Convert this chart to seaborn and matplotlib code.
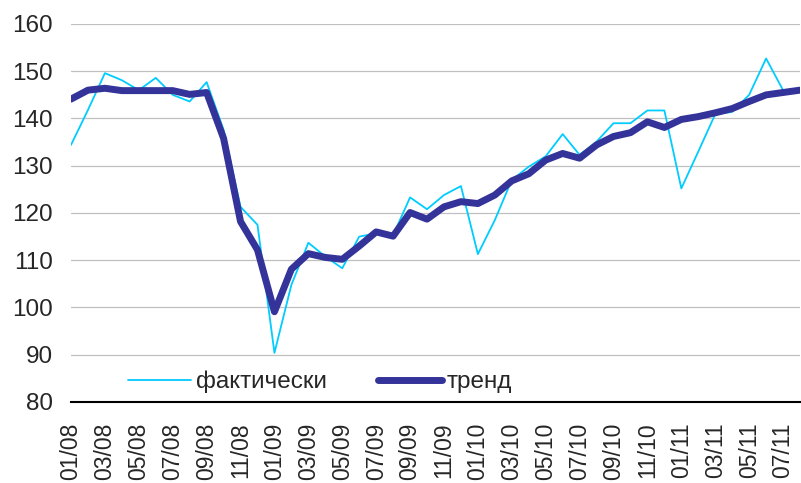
import numpy as np
import pandas as pd
import matplotlib
matplotlib.use("Agg")
import matplotlib.pyplot as plt
import seaborn as sns

# monthly series, 01/08 .. 08/11
months = [p.strftime("%m/%y") for p in pd.period_range("2008-01", "2011-08", freq="M")]
actual = [134.4, 141.8, 149.6, 148.1, 146.0, 148.6, 145.0, 143.6, 147.7, 137.6,
          121.3, 117.5, 90.4, 104.8, 113.7, 110.8, 108.3, 115.0, 115.7, 115.3,
          123.3, 120.8, 123.8, 125.7, 111.3, 118.5, 127.0, 129.8, 132.0, 136.7,
          132.3, 135.1, 139.0, 139.0, 141.7, 141.7, 125.2, 133.0, 140.9, 141.4,
          145.0, 152.7, 146.0, 146.0]
trend = [144.1, 146.0, 146.4, 145.9, 145.9, 145.9, 145.9, 145.1, 145.5, 135.8,
         118.2, 112.2, 99.1, 108.1, 111.4, 110.6, 110.2, 113.0, 116.0, 115.1,
         120.1, 118.7, 121.3, 122.4, 122.0, 123.8, 126.8, 128.3, 131.2, 132.6,
         131.6, 134.4, 136.2, 137.0, 139.3, 138.1, 139.8, 140.4, 141.2, 142.1,
         143.6, 145.0, 145.5, 146.0]

df = pd.DataFrame({"idx": np.arange(len(months)), "month": months,
                   "фактически": actual, "тренд": trend})

sns.set_style("white")
plt.rcParams["font.family"] = ["Liberation Sans", "DejaVu Sans"]

fig = plt.figure(figsize=(8.01, 4.83), dpi=100)
ax = fig.add_axes([71 / 801, 81 / 483, 729 / 801, 378 / 483])

sns.lineplot(data=df, x="idx", y="фактически", ax=ax, color="#00CCFF",
             linewidth=1.3, label="фактически")
sns.lineplot(data=df, x="idx", y="тренд", ax=ax, color="#333399",
             linewidth=5.0, label="тренд")

ax.set_xlim(0, len(months) - 1)
ax.set_ylim(80, 160)
ax.set_yticks(range(80, 161, 10))
ax.yaxis.grid(True, color="#C0C0C0", linewidth=0.9)
ax.set_axisbelow(True)

ticks = list(range(0, len(months), 2))
ax.set_xticks(ticks)
ax.set_xticklabels([months[i] for i in ticks], rotation=90)
ax.tick_params(axis="x", length=0, pad=15, labelsize=16.5)
ax.tick_params(axis="y", length=0, pad=13, labelsize=17.5)
ax.set_xlabel("")
ax.set_ylabel("")

for s in ["left", "right", "top"]:
    ax.spines[s].set_visible(False)
ax.spines["bottom"].set_color("black")
ax.spines["bottom"].set_linewidth(1.5)

ax.legend(loc="center left", bbox_to_anchor=(0.078, 0.053), ncol=2,
          frameon=False, fontsize=17.5, handlelength=2.6, handletextpad=0.22,
          columnspacing=2.1, borderpad=0, borderaxespad=0)

fig.savefig("out.png", dpi=100)
